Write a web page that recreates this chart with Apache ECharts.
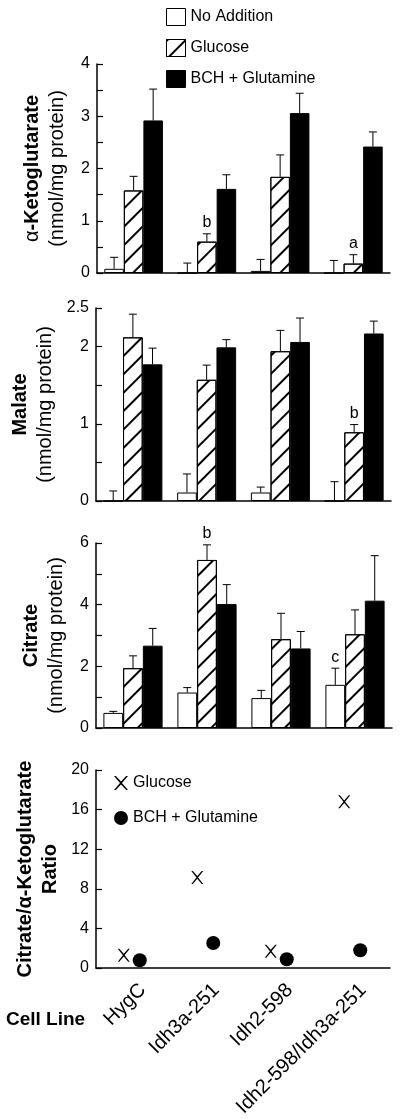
<!DOCTYPE html>
<html><head><meta charset="utf-8">
<script src="https://cdn.jsdelivr.net/npm/echarts@6/dist/echarts.min.js"></script>
<style>html,body{margin:0;padding:0;background:#fff}#c{width:400px;height:1119px}</style>
</head><body><div id="c"></div>
<script>
// ---------- data ----------
const cells = ['HygC', 'Idh3a-251', 'Idh2-598', 'Idh2-598/Idh3a-251'];
const treatments = ['No Addition', 'Glucose', 'BCH + Glutamine'];

// alpha-Ketoglutarate (nmol/mg protein)
const akgNoAdd = [0.08, 0, 0.04, 0];
const akgNoAddErr = [0.22, 0.19, 0.22, 0.24];
const akgGlucose = [1.58, 0.60, 1.84, 0.18];
const akgGlucoseErr = [0.27, 0.15, 0.42, 0.17];
const akgBch = [2.92, 1.61, 3.06, 2.42];
const akgBchErr = [0.60, 0.27, 0.38, 0.28];
const akgSig = [['', '', '', ''], ['', 'b', '', 'a'], ['', '', '', '']];

// Malate
const malNoAdd = [0, 0.11, 0.11, 0];
const malNoAddErr = [0.13, 0.24, 0.07, 0.25];
const malGlucose = [2.12, 1.57, 1.94, 0.89];
const malGlucoseErr = [0.30, 0.19, 0.27, 0.10];
const malBch = [1.77, 1.99, 2.06, 2.17];
const malBchErr = [0.21, 0.10, 0.31, 0.16];
const malSig = [['', '', '', ''], ['', '', '', 'b'], ['', '', '', '']];

// Citrate
const citNoAdd = [0.49, 1.15, 0.97, 1.40];
const citNoAddErr = [0.05, 0.16, 0.25, 0.54];
const citGlucose = [1.94, 5.45, 2.88, 3.04];
const citGlucoseErr = [0.40, 0.49, 0.84, 0.79];
const citBch = [2.67, 4.02, 2.58, 4.13];
const citBchErr = [0.56, 0.63, 0.55, 1.46];
const citSig = [['', '', '', 'c'], ['', 'b', '', ''], ['', '', '', '']];

// Citrate / alpha-Ketoglutarate ratio
const ratioGlucose = [1.3, 9.15, 1.7, 16.8];
const ratioBch = [0.78, 2.53, 0.88, 1.79];

// y-axis ticks
const akgAxis = {min: 0, max: 4, interval: 0.5, labels: [0, 1, 2, 3, 4]};
const malAxis = {min: 0, max: 2.5, interval: 0.5, labels: [0, 1, 2, 2.5]};
const citAxis = {min: 0, max: 6, interval: 1, labels: [0, 2, 4, 6]};
const ratioAxis = {min: 0, max: 20, interval: 4, labels: [0, 4, 8, 12, 16, 20]};

// ---------- styling ----------
const FONT = 'Liberation Sans, Arial, Helvetica, sans-serif';
const X_PATH = 'path://M0,0L13,0L50,40L87,0L100,0L57,50L100,100L87,100L50,60L13,100L0,100L43,50Z';
const hatch = {
  symbol: 'rect', symbolSize: 1, color: '#000',
  dashArrayX: [1, 0], dashArrayY: [1.3, 10.7], rotation: -Math.PI / 4
};
const barStyles = [
  {color: '#fff', borderColor: '#000', borderWidth: 1},
  {color: '#fff', borderColor: '#000', borderWidth: 1, decal: hatch},
  {color: '#000', borderColor: '#000', borderWidth: 1}
];

const grids = [
  {left: 97, top: 64, width: 293, height: 209},
  {left: 96, top: 308, width: 295, height: 193},
  {left: 96, top: 543, width: 296, height: 185},
  {left: 96, top: 770, width: 294, height: 198},
  // label strip for the cell-line names (same band layout as panel 4, shifted like the original)
  {left: 106, top: 770, width: 294, height: 198}
].map(g => Object.assign({outerBoundsMode: 'none', containLabel: false}, g));

function yAxisFor(idx, ax, name, gap) {
  return {
    type: 'value', gridIndex: idx, min: ax.min, max: ax.max, interval: ax.interval,
    axisLine: {show: true, lineStyle: {color: '#000', width: 1.5}},
    axisTick: {show: true, inside: true, length: 6, lineStyle: {color: '#000', width: 1.2}},
    splitLine: {show: false},
    axisLabel: {
      color: '#000', fontSize: 16, fontFamily: FONT, margin: 7,
      formatter: v => (ax.labels.some(l => Math.abs(l - v) < 1e-9) ? String(v) : '')
    },
    name: name, nameLocation: 'middle', nameRotate: 90, nameGap: gap,
    nameTextStyle: {
      color: '#000', fontFamily: FONT, fontSize: 20,
      rich: {
        n: {fontSize: 20, fontFamily: FONT, color: '#000', lineHeight: 25},
        b: {fontSize: 20, fontFamily: FONT, color: '#000', fontWeight: 'bold', lineHeight: 25},
        r: {fontSize: 20, fontFamily: FONT, color: '#000', lineHeight: 25}
      }
    }
  };
}
function xAxisFor(idx) {
  return {
    type: 'category', gridIndex: idx, data: cells,
    axisLine: {show: true, lineStyle: {color: '#000', width: 1.5}},
    axisTick: {show: false},
    splitLine: {show: false},
    axisLabel: {show: false}
  };
}

function barSeries(idx, values) {
  return values.map((vals, k) => ({
    type: 'bar', name: treatments[k], xAxisIndex: idx, yAxisIndex: idx,
    data: vals, barGap: '0%', barCategoryGap: '20%',
    itemStyle: barStyles[k], silent: true, animation: false
  }));
}
function errSeries(idx, values, errs, sig) {
  const data = [];
  values.forEach((vals, k) => vals.forEach((v, i) => data.push([i, v, errs[k][i], k, sig[k][i]])));
  return {
    type: 'custom', xAxisIndex: idx, yAxisIndex: idx, silent: true, animation: false, z: 5,
    data: data,
    renderItem: (params, api) => {
      const d = data[params.dataIndex];
      const i = d[0], m = d[1], e = d[2], k = d[3], s = d[4];
      const bw = api.size([1, 0])[0];
      const barW = bw * 0.8 / 3;
      const x = api.coord([i, 0])[0] + (k - 1) * barW;
      const y0 = api.coord([i, m])[1];
      const y1 = api.coord([i, m + e])[1];
      const st = {stroke: '#000', lineWidth: 1};
      const children = [
        {type: 'line', shape: {x1: x, y1: y0, x2: x, y2: y1}, style: st},
        {type: 'line', shape: {x1: x - 4, y1: y1, x2: x + 4, y2: y1}, style: st}
      ];
      if (s) {
        children.push({type: 'text', style: {
          text: s, x: x, y: y1 - 3, align: 'center', verticalAlign: 'bottom',
          fill: '#000', fontSize: 16, fontFamily: FONT
        }});
      }
      return {type: 'group', children: children};
    }
  };
}

const option = {
  backgroundColor: '#fff',
  animation: false,
  grid: grids,
  title: {
    text: 'Cell Line', left: 6, top: 1010, padding: 0,
    textStyle: {fontSize: 19, fontWeight: 'bold', color: '#000', fontFamily: FONT}
  },
  legend: [
    {
      data: treatments, orient: 'vertical', left: 166, top: 8, padding: 0,
      icon: 'rect', itemWidth: 19, itemHeight: 17, itemGap: 13, selectedMode: false,
      itemStyle: {borderWidth: 1, borderColor: '#000'},
      textStyle: {fontSize: 16, color: '#000', fontFamily: FONT}
    },
    {
      data: ['Glucose ratio', 'BCH + Glutamine ratio'], orient: 'vertical', left: 114, top: 775, padding: 0,
      itemWidth: 14, itemHeight: 14, itemGap: 19, selectedMode: false,
      formatter: n => n.replace(' ratio', ''),
      itemStyle: {opacity: 1},
      textStyle: {fontSize: 16, color: '#000', fontFamily: FONT}
    }
  ],
  xAxis: [
    xAxisFor(0), xAxisFor(1), xAxisFor(2), xAxisFor(3),
    {
      type: 'category', gridIndex: 4, data: cells,
      axisLine: {show: false}, axisTick: {show: false}, splitLine: {show: false},
      axisLabel: {show: true, rotate: 45, interval: 0, color: '#000', fontSize: 20, fontFamily: FONT, margin: 19}
    }
  ],
  yAxis: [
    yAxisFor(0, akgAxis, '{n|α}{b|-Ketoglutarate}\n{r|(nmol/mg protein)}', 27.5),
    yAxisFor(1, malAxis, '{b|Malate}\n{r|(nmol/mg protein)}', 27.5),
    yAxisFor(2, citAxis, '{b|Citrate}\n{r|(nmol/mg protein)}', 27.5),
    yAxisFor(3, ratioAxis, '{b|Citrate/α-Ketoglutarate}\n{b|Ratio}', 27.5),
    {type: 'value', gridIndex: 4, min: 0, max: 1, show: false}
  ],
  series: [
    ...barSeries(0, [akgNoAdd, akgGlucose, akgBch]),
    errSeries(0, [akgNoAdd, akgGlucose, akgBch], [akgNoAddErr, akgGlucoseErr, akgBchErr], akgSig),
    ...barSeries(1, [malNoAdd, malGlucose, malBch]),
    errSeries(1, [malNoAdd, malGlucose, malBch], [malNoAddErr, malGlucoseErr, malBchErr], malSig),
    ...barSeries(2, [citNoAdd, citGlucose, citBch]),
    errSeries(2, [citNoAdd, citGlucose, citBch], [citNoAddErr, citGlucoseErr, citBchErr], citSig),
    {
      type: 'scatter', name: 'Glucose ratio', xAxisIndex: 3, yAxisIndex: 3, data: ratioGlucose,
      symbol: X_PATH, symbolSize: [12, 13], symbolOffset: [-9, 0],
      itemStyle: {color: '#000', opacity: 1}, silent: true
    },
    {
      type: 'scatter', name: 'BCH + Glutamine ratio', xAxisIndex: 3, yAxisIndex: 3, data: ratioBch,
      symbol: 'circle', symbolSize: 14, symbolOffset: [7, 0],
      itemStyle: {color: '#000', opacity: 1}, silent: true
    }
  ]
};
const chart = echarts.init(document.getElementById('c'), null, {renderer: 'canvas'});
chart.setOption(option);
</script>
</body></html>
